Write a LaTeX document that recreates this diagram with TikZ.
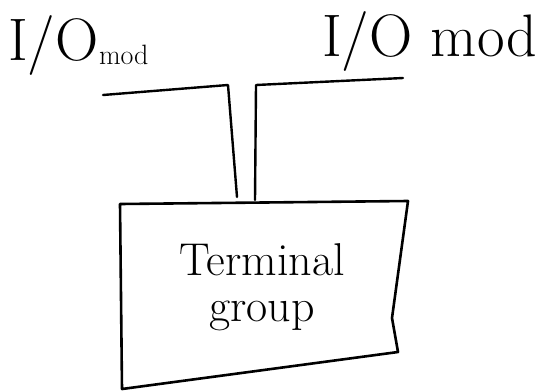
\documentclass[tikz,border=0pt]{standalone}
\begin{document}
\begin{tikzpicture}[x=1pt,y=-1pt,
  wire/.style={line width=2.4pt,line cap=round,line join=round},
  boxline/.style={line width=2.6pt,line join=round},
  hand/.style={inner sep=0pt,anchor=base west},
]
\useasboundingbox (0,0) rectangle (553,391);
% labels
\node[hand,font=\fontsize{60}{60}\selectfont] (lab1) at (8,60) {I/O};
\node[hand,font=\fontsize{28}{28}\selectfont] (lab1sub) at ([yshift=-4pt]lab1.base east) {mod};
\node[hand,font=\fontsize{60}{60}\selectfont] (lab2) at (322,56) {I/O mod};
% box outline
\coordinate (tl) at (120,204);
\coordinate (tr) at (408,201);
\coordinate (rm) at (392,318);
\coordinate (br) at (398,352);
\coordinate (bl) at (122,389);
\draw[boxline] (tl) -- (tr) -- (rm) -- (br) -- (bl) -- cycle;
\node[align=center,font=\fontsize{46}{46}\selectfont] (box) at (262,287) {Terminal\\group};
% wires
\coordinate (w1s) at (103,95);
\coordinate (w1c) at (228,85);
\coordinate (w1e) at (237,197);
\coordinate (w2s) at (403,78);
\coordinate (w2c) at (256,85);
\coordinate (w2e) at (255,200);
\draw[wire] (w1s) -- (w1c) -- (w1e);
\draw[wire] (w2s) -- (w2c) -- (w2e);
\end{tikzpicture}
\end{document}
